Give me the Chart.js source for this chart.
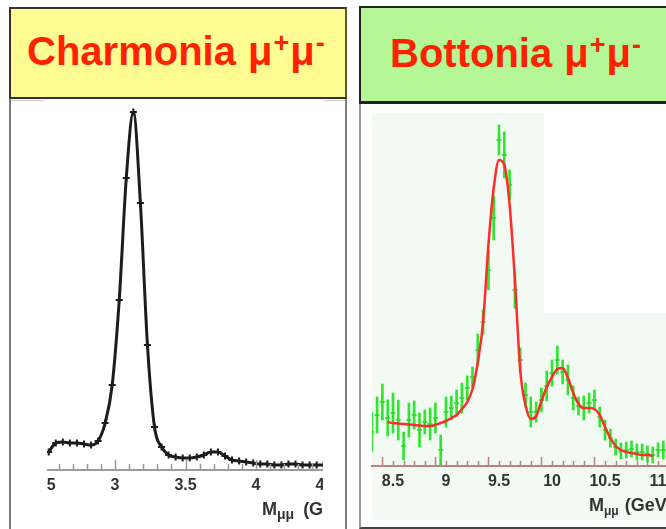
<!DOCTYPE html>
<html>
<head>
<meta charset="utf-8">
<title>Charmonia / Bottonia μ+μ-</title>
<script src="https://cdn.jsdelivr.net/npm/chart.js@4.4.0/dist/chart.umd.min.js"></script>
<style>
  html, body { margin: 0; padding: 0; background: #fff; }
  body { width: 666px; height: 529px; position: relative; overflow: hidden;
         font-family: "Liberation Sans", Arial, Helvetica, sans-serif; }
  .abs { position: absolute; box-sizing: border-box; }
  .head { position: absolute; font-weight: bold; color: #ff2200; font-size: 40px;
          line-height: 40px; white-space: nowrap; }
  .head .mu { margin-left: 1px; }
  .head sup { font-size: 27px; vertical-align: 13px; line-height: 0; margin-left: 1px; }
  canvas { position: absolute; }
</style>
</head>
<body>
  <!-- left panel -->
  <div class="abs" style="left:9px; top:97px; width:338px; height:432px; border-left:2px solid #7a7a7a; border-right:2px solid #808080;"></div>
  <div class="abs" style="left:11px; top:100px; width:34px; height:1px; background:#d0d0d0;"></div>
  <div class="abs" style="left:323px; top:100px; width:22px; height:1px; background:#d0d0d0;"></div>
  <div class="abs" style="left:9px; top:7px; width:338px; height:92px; background:#fefb93; border:2px solid #333; border-right-color:#5c5c30;"></div>
  <div class="head" style="left:27px; top:31px;">Charmonia <span class="mu">μ</span><sup>+</sup><span class="mu">μ</span><sup>-</sup></div>

  <!-- right panel -->
  <div class="abs" style="left:359px; top:102px; width:307px; height:427px; border-left:2px solid #9a9a9a; border-bottom:2px solid #444;"></div>
  <div class="abs" style="left:372px; top:113px; width:172px; height:200px; background:#f3f9f3;"></div>
  <div class="abs" style="left:372px; top:313px; width:294px; height:207px; background:#f3f9f3;"></div>
  <div class="abs" style="left:359px; top:6px; width:307px; height:98px; background:#b5f796; border:2px solid #222; border-right:none; border-bottom-width:3px;"></div>
  <div class="head" style="left:390px; top:33px;">Bottonia <span class="mu">μ</span><sup>+</sup><span class="mu">μ</span><sup>-</sup></div>

  <canvas id="charmChart" width="276" height="429" style="left:47px; top:100px;"></canvas>
  <canvas id="bottChart" width="304" height="422" style="left:362px; top:104px;"></canvas>

<script>
// J/psi region: dimuon mass bins (GeV) and counts per bin
const charmMass = [2.53, 2.58, 2.63, 2.68, 2.73, 2.78, 2.83, 2.88, 2.93, 2.98,
                   3.03, 3.08, 3.13, 3.18, 3.23, 3.28, 3.33, 3.38, 3.43, 3.48,
                   3.53, 3.58, 3.63, 3.68, 3.73, 3.78, 3.83, 3.88, 3.93, 3.98,
                   4.03, 4.08, 4.13, 4.18, 4.23, 4.28, 4.33, 4.38, 4.43, 4.48];
const charmCounts = [180, 270, 280, 270, 270, 260, 250, 290, 470, 850,
                     1700, 2920, 3580, 2670, 1250, 430, 230, 150, 130, 120,
                     120, 130, 150, 180, 180, 140, 100, 90, 80, 70,
                     60, 60, 50, 50, 60, 60, 50, 50, 50, 50];
const charmTicks = [2.5, 3, 3.5, 4, 4.5];

// Upsilon region: measured bins with errors, plus the fitted curve
const bottMass = [8.30, 8.35, 8.40, 8.45, 8.50, 8.55, 8.60, 8.65, 8.70, 8.75,
                  8.80, 8.85, 8.90, 8.95, 9.00, 9.05, 9.10, 9.15, 9.20, 9.25,
                  9.30, 9.35, 9.40, 9.45, 9.50, 9.55, 9.60, 9.65, 9.70, 9.75,
                  9.80, 9.85, 9.90, 9.95, 10.00, 10.05, 10.10, 10.15, 10.20, 10.25,
                  10.30, 10.35, 10.40, 10.45, 10.50, 10.55, 10.60, 10.65, 10.70, 10.75,
                  10.80, 10.85, 10.90, 10.95, 11.00, 11.05];
const bottCounts = [68, 102, 128, 96, 106, 92, 40, 92, 102, 72,
                    88, 84, 96, 32, 108, 116, 126, 136, 156, 178,
                    232, 288, 392, 496, 652, 622, 562, 352, 212, 142,
                    108, 108, 132, 160, 186, 212, 188, 172, 136, 120,
                    116, 126, 132, 98, 72, 56, 38, 30, 32, 34,
                    28, 28, 24, 22, 32, 32];
const bottErrors = [40, 36, 36, 36, 40, 40, 28, 34, 28, 34,
                    24, 32, 30, 30, 30, 24, 26, 30, 24, 20,
                    32, 24, 40, 44, 30, 46, 30, 36, 24, 24,
                    30, 20, 24, 30, 26, 28, 24, 30, 24, 18,
                    24, 20, 20, 20, 20, 18, 16, 16, 16, 16,
                    16, 16, 16, 16, 14, 18];
const fitMass = [8.45, 8.50, 8.55, 8.60, 8.65, 8.70, 8.75, 8.80, 8.85, 8.90,
                 8.95, 9.00, 9.05, 9.10, 9.15, 9.20, 9.25, 9.30, 9.35, 9.40,
                 9.45, 9.50, 9.55, 9.60, 9.65, 9.70, 9.75, 9.80, 9.85, 9.90,
                 9.95, 10.00, 10.05, 10.10, 10.15, 10.20, 10.25, 10.30, 10.35, 10.40,
                 10.45, 10.50, 10.55, 10.60, 10.65, 10.70, 10.75, 10.80, 10.85, 10.90,
                 10.95];
const fitCounts = [88, 86, 85, 84, 83, 82, 81, 80, 80, 82,
                   86, 90, 96, 102, 114, 128, 154, 208, 288, 442,
                   556, 612, 602, 522, 372, 192, 122, 94, 100, 130,
                   158, 178, 194, 196, 176, 146, 124, 116, 116, 114,
                   102, 78, 56, 40, 32, 28, 26, 24, 22, 22,
                   20];
const bottTicks = [8.5, 9, 9.5, 10, 10.5, 11];

const FONT = '"Liberation Sans", Arial, Helvetica, sans-serif';

// small tick marks standing up from the mass axis
const upTicks = {
    id: 'upTicks',
    afterDatasetsDraw(chart, args, opts) {
        const x = chart.scales.x;
        const ctx = chart.ctx;
        const base = chart.chartArea.bottom - 1;
        ctx.save();
        ctx.strokeStyle = opts.color;
        ctx.lineWidth = 1.5;
        ctx.beginPath();
        for (let k = 0; k <= opts.count; k++) {
            const v = opts.from + k * opts.step;
            const px = Math.round(x.getPixelForValue(v)) + 0.5;
            const len = (k % opts.every === 0) ? opts.majorLen : opts.minorLen;
            ctx.moveTo(px, base);
            ctx.lineTo(px, base - len);
        }
        ctx.stroke();
        ctx.restore();
    }
};

// axis title "M_μμ (GeV)" with a subscript
const massTitle = {
    id: 'massTitle',
    afterDraw(chart, args, opts) {
        const ctx = chart.ctx;
        let x = chart.chartArea.right - opts.fromRight;
        const y = opts.baseline;
        ctx.save();
        ctx.fillStyle = '#333';
        ctx.textBaseline = 'alphabetic';
        ctx.font = 'bold 18px ' + FONT;
        ctx.fillText('M', x, y);
        x += ctx.measureText('M').width;
        ctx.font = 'bold ' + opts.subSize + 'px ' + FONT;
        ctx.fillText('μμ', x, y + 4);
        x += ctx.measureText('μμ').width + opts.gap;
        ctx.font = 'bold 18px ' + FONT;
        ctx.fillText('(GeV)', x, y);
        ctx.restore();
    }
};

function massAxis(min, max, ticks, height, borderColor) {
    return {
        type: 'linear',
        min: min,
        max: max,
        offset: false,
        grid: { display: false, drawTicks: false },
        border: { display: true, color: borderColor, width: 2 },
        ticks: {
            padding: 6,
            color: '#333',
            font: { family: FONT, size: 16, weight: 'bold' },
            maxRotation: 0,
            autoSkip: false,
            callback: v => String(v)
        },
        afterBuildTicks: s => { s.ticks = ticks.map(v => ({ value: v })); },
        afterFit: s => { s.height = height; s.paddingLeft = 0; s.paddingRight = 0; }
    };
}

new Chart(document.getElementById('charmChart'), {
    type: 'line',
    data: {
        datasets: [{
            data: charmMass.map((m, i) => ({ x: m, y: charmCounts[i] })),
            borderColor: '#1c1c1c',
            borderWidth: 3,
            cubicInterpolationMode: 'monotone',
            pointStyle: 'cross',
            pointRadius: 3.5,
            pointBorderWidth: 2,
            pointBorderColor: '#1c1c1c'
        }]
    },
    options: {
        responsive: false,
        animation: false,
        events: [],
        layout: { padding: 0, autoPadding: false },
        plugins: {
            legend: { display: false },
            tooltip: { enabled: false },
            upTicks: { color: '#9a9a9a', from: 2.5, step: 0.1, count: 20, every: 5, minorLen: 5, majorLen: 9 },
            massTitle: { fromRight: 61, baseline: 415, subSize: 14, gap: 9 }
        },
        scales: {
            x: massAxis(2.5177, 4.475, charmTicks, 59, '#9a9a9a'),
            y: { display: false, min: 0, max: 3700 }
        }
    },
    plugins: [upTicks, massTitle]
});

new Chart(document.getElementById('bottChart'), {
    type: 'line',
    data: {
        datasets: [
            {
                type: 'line',
                data: fitMass.map((m, i) => ({ x: m, y: fitCounts[i] })),
                borderColor: '#ff2a2a',
                borderWidth: 2.5,
                pointRadius: 0,
                cubicInterpolationMode: 'monotone',
                order: 0
            },
            {
                type: 'line',
                data: bottMass.map((m, i) => ({ x: m, y: bottCounts[i] })),
                showLine: false,
                pointStyle: 'line',
                pointRadius: 2.5,
                pointBorderWidth: 1.5,
                pointBorderColor: '#22d822',
                order: 1
            },
            {
                type: 'bar',
                data: bottMass.map((m, i) => ({ x: m, y: [bottCounts[i] - bottErrors[i], bottCounts[i] + bottErrors[i]] })),
                backgroundColor: '#2ee62e',
                barThickness: 2,
                grouped: false,
                order: 2
            }
        ]
    },
    options: {
        responsive: false,
        animation: false,
        events: [],
        layout: { padding: { left: 10, top: 6, right: 0, bottom: 0 }, autoPadding: false },
        plugins: {
            legend: { display: false },
            tooltip: { enabled: false },
            upTicks: { color: '#b88080', from: 8.4, step: 0.1, count: 26, every: 5, minorLen: 4, majorLen: 8 },
            massTitle: { fromRight: 77, baseline: 407, subSize: 12, gap: 6 }
        },
        scales: {
            x: massAxis(8.302, 11.075, bottTicks, 60, '#b88080'),
            y: { display: false, min: 0, max: 712 }
        }
    },
    plugins: [upTicks, massTitle]
});
</script>
</body>
</html>
